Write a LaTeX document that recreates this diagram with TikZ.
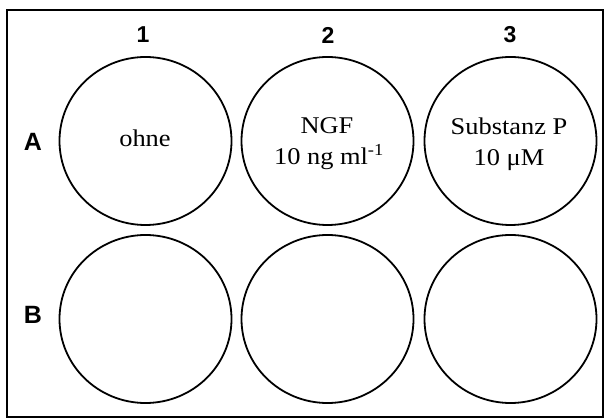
\documentclass[tikz,border=0pt]{standalone}
\usepackage{fontspec}
\usetikzlibrary{shapes.geometric}
\newfontfamily\wellfont{Liberation Serif}[FakeStretch=1.1]
\newfontfamily\labelfont{Liberation Sans}
\begin{document}
\begin{tikzpicture}[x=1pt,y=-1pt,
  well/.style={draw, line width=1.8pt, ellipse, minimum width=172pt,
               minimum height=168pt, inner sep=0pt},
  headlabel/.style={font=\labelfont\bfseries\fontsize{23}{23}\selectfont,
                    inner sep=0pt},
  welltext/.style={font=\wellfont\fontsize{24}{24}\selectfont,
                   inner sep=0pt, anchor=base}]
\useasboundingbox (0,0) rectangle (605,419);
% plate outline
\draw[line width=2pt] (7,10) rectangle (603,417);

% wells
\node[well] (A1) at (145.5,141) {};
\node[well] (A2) at (327.5,141) {};
\node[well] (A3) at (510.5,141) {};
\node[well] (B1) at (145.5,319) {};
\node[well] (B2) at (327.5,319) {};
\node[well] (B3) at (510.5,319) {};

% column and row labels
\node[headlabel] (c1) at (143,35) {1};
\node[headlabel] (c2) at (328,35) {2};
\node[headlabel] (c3) at (510,35) {3};
\node[headlabel, font=\labelfont\bfseries\fontsize{25}{25}\selectfont] (rA) at (33,142) {A};
\node[headlabel, font=\labelfont\bfseries\fontsize{25}{25}\selectfont] (rB) at (33,315) {B};

% treatments
\node[welltext] (ohne) at (145,147) {ohne};
\node[welltext] (ngf) at (327,134) {NGF};
\node[welltext] (ngfconc) at (329,165) {10 ng ml\textsuperscript{-1}};
\node[welltext] (subp) at (509,135) {Substanz P};
\node[welltext] (subpconc) at (509,166) {10 μM};
\end{tikzpicture}
\end{document}
